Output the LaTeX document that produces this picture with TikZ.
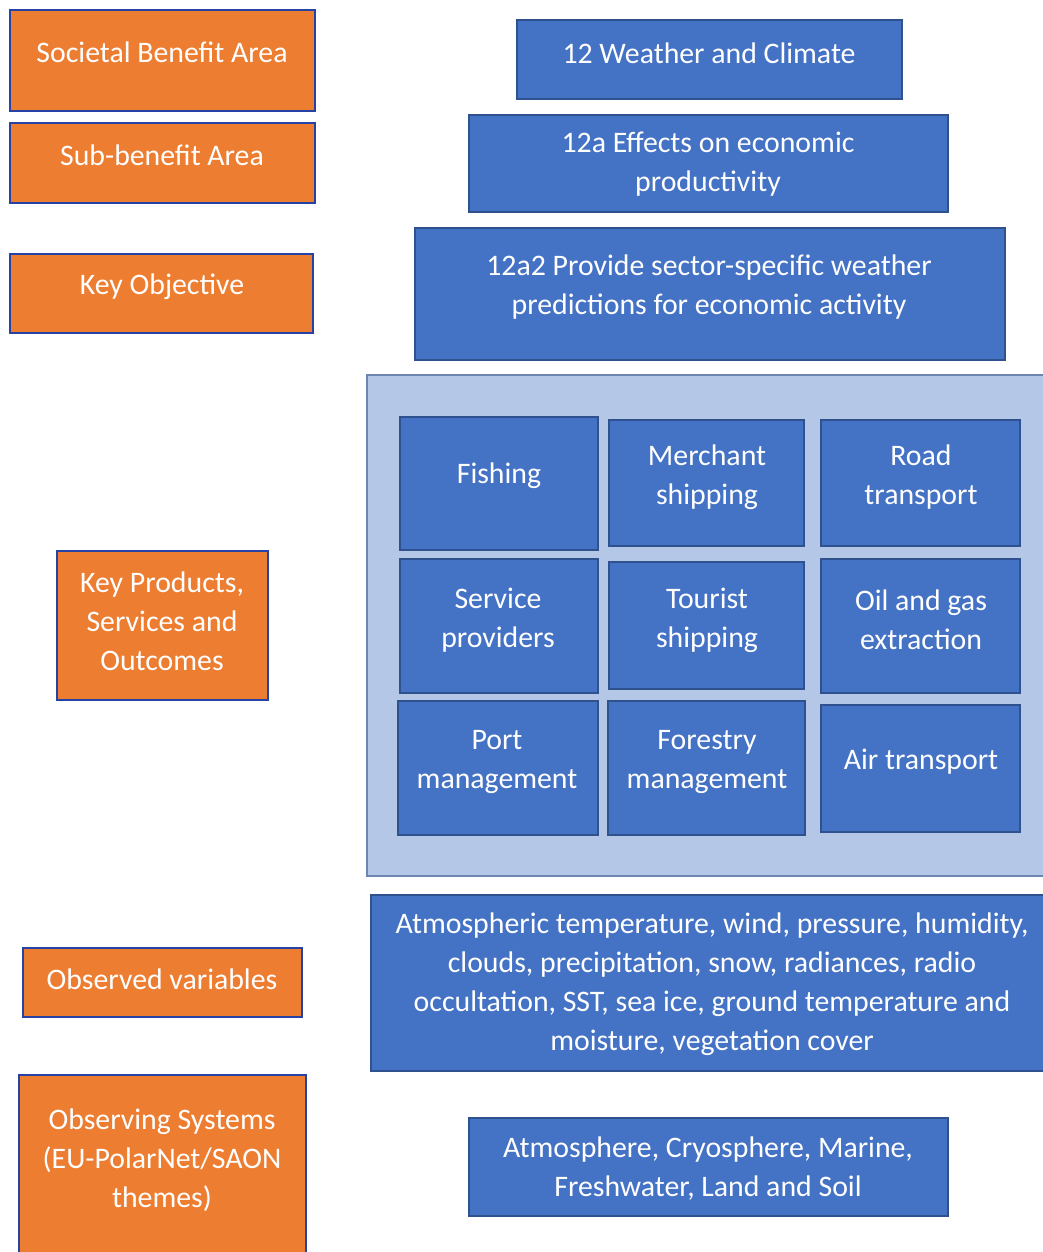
\documentclass[tikz,border=0pt]{standalone}
\usepackage{fontspec}
\setmainfont{Carlito}
\definecolor{sbaorange}{HTML}{ED7D31}
\definecolor{itemblue}{HTML}{4472C4}
\definecolor{edgeblue}{HTML}{2F528F}
\definecolor{panelblue}{HTML}{B4C7E7}
\begin{document}
\begin{tikzpicture}[x=1pt,y=-1pt,
  box/.style={draw=edgeblue, line width=1.6pt, inner sep=0pt, outer sep=0pt, anchor=north west},
  tagbox/.style={box, fill=sbaorange, draw=edgeblue!80!blue},
  itembox/.style={box, fill=itemblue},
  panel/.style={box, fill=panelblue, draw=edgeblue!70, line width=1.6pt},
  lbl/.style={text=white, align=center, inner sep=0pt, yshift=-2pt,
    font=\fontsize{29.8}{39}\selectfont}]
\useasboundingbox (0,0) rectangle (1043,1252);

% left column: hierarchy levels
\node[tagbox, minimum width=305, minimum height=101] (sbaB) at (10,10) {};
\node[lbl] (sbaT) at (162,50) {Societal Benefit Area};
\node[tagbox, minimum width=305, minimum height=80] (subB) at (10,123) {};
\node[lbl] (subT) at (162,153) {Sub-benefit Area};
\node[tagbox, minimum width=303, minimum height=79] (objB) at (10,254) {};
\node[lbl] (objT) at (162,285) {Key Objective};
\node[tagbox, minimum width=211, minimum height=149] (prodB) at (57,551) {};
\node[lbl] (prodT) at (162,619) {Key Products,\\Services and\\Outcomes};
\node[tagbox, minimum width=279, minimum height=69] (varB) at (23,948) {};
\node[lbl] (varT) at (162,977) {Observed variables};
\node[tagbox, minimum width=287, minimum height=180] (sysB) at (19,1075) {};
\node[lbl] (sysT) at (162,1158) {Observing Systems\\(EU-PolarNet/SAON\\themes)};

% right column: Weather and Climate chain
\node[itembox, minimum width=385, minimum height=79] (wcB) at (517,20) {};
\node[lbl] (wcT) at (709,51) {12 Weather and Climate};
\node[itembox, minimum width=479, minimum height=97] (effB) at (469,115) {};
\node[lbl] (effT) at (708,162) {12a Effects on economic\\productivity};
\node[itembox, minimum width=590, minimum height=132] (predB) at (415,228) {};
\node[lbl] (predT) at (709,285) {12a2 Provide sector-specific weather\\predictions for economic activity};

% sector panel
\node[panel, minimum width=680, minimum height=501] (panelB) at (367,375) {};
\node[itembox, minimum width=198, minimum height=133] (fishB) at (400,417) {};
\node[lbl] (fishT) at (499,474) {Fishing};
\node[itembox, minimum width=195, minimum height=126] (merB) at (609,420) {};
\node[lbl] (merT) at (707,475) {Merchant\\shipping};
\node[itembox, minimum width=199, minimum height=126] (roadB) at (821,420) {};
\node[lbl] (roadT) at (921,475) {Road\\transport};
\node[itembox, minimum width=198, minimum height=134] (servB) at (400,559) {};
\node[lbl] (servT) at (498,618) {Service\\providers};
\node[itembox, minimum width=195, minimum height=127] (tourB) at (609,562) {};
\node[lbl] (tourT) at (707,618) {Tourist\\shipping};
\node[itembox, minimum width=199, minimum height=134] (oilB) at (821,559) {};
\node[lbl] (oilT) at (921,618) {Oil and gas\\extraction};
\node[itembox, minimum width=200, minimum height=134] (portB) at (398,701) {};
\node[lbl] (portT) at (497,760) {Port\\management};
\node[itembox, minimum width=197, minimum height=134] (forB) at (608,701) {};
\node[lbl] (forT) at (707,760) {Forestry\\management};
\node[itembox, minimum width=199, minimum height=127] (airB) at (821,705) {};
\node[lbl] (airT) at (921,760) {Air transport};

% observations
\node[itembox, minimum width=676, minimum height=176] (obsB) at (371,895) {};
\node[lbl] (obsT) at (712,982) {Atmospheric temperature, wind, pressure, humidity,\\clouds, precipitation, snow, radiances, radio\\occultation, SST, sea ice, ground temperature and\\moisture, vegetation cover};
\node[itembox, minimum width=479, minimum height=98] (themeB) at (469,1118) {};
\node[lbl] (themeT) at (708,1167) {Atmosphere, Cryosphere, Marine,\\Freshwater, Land and Soil};
\end{tikzpicture}
\end{document}
